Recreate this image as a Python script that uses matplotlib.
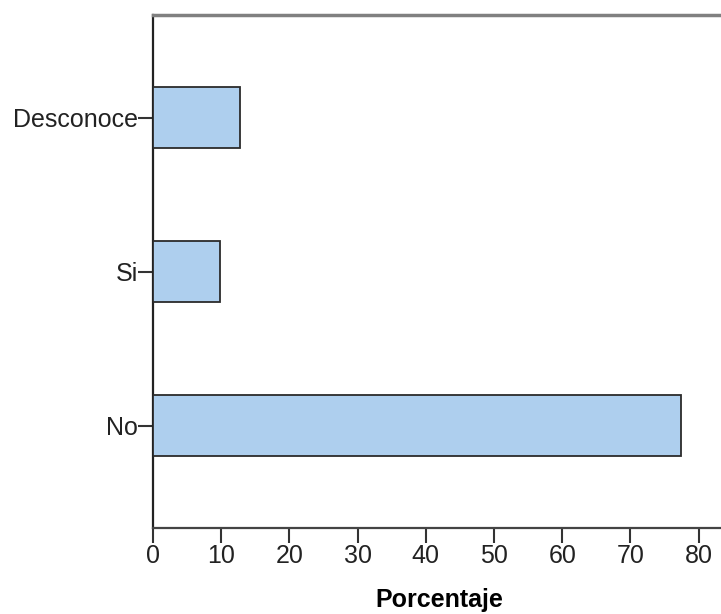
import matplotlib
matplotlib.use('Agg')
import matplotlib.pyplot as plt
import numpy as np

# data
categories = ['No', 'Si', 'Desconoce']
porcentaje = [77.4, 9.8, 12.7]
xticks = [0, 10, 20, 30, 40, 50, 60, 70, 80]

plt.rcParams['font.family'] = ['Liberation Sans', 'DejaVu Sans']

fig = plt.figure(figsize=(7.21, 6.14), dpi=100)
W, H = 721., 614.
# axes box in pixels: left 153, top 15, bottom 528, 6.82 px per unit
x0, ytop, ybot = 153., 15., 528.3
pxu = 6.82
xmax = 84.
ax = fig.add_axes([x0/W, (H-ybot)/H, xmax*pxu/W, (ybot-ytop)/H])

pos = np.arange(len(categories))
ax.barh(pos, porcentaje, height=0.396, color='#aecfee', edgecolor='#2b2b2b', linewidth=1.3, zorder=3)

ax.set_xlim(0, xmax)
ax.set_ylim(-0.667, 2.667)
ax.set_yticks(pos)
ax.set_yticklabels(categories)
ax.set_xticks(xticks)

ax.tick_params(axis='both', direction='out', length=10.5, width=1.5, color='#333333',
               labelsize=18, labelcolor='#222222', pad=0.5)
ax.set_xlabel('Porcentaje', fontsize=18, fontweight='bold', labelpad=15)

ax.spines['right'].set_visible(False)
ax.spines['top'].set_color('#808080')
ax.spines['top'].set_linewidth(2.5)
ax.spines['left'].set_color('#222222')
ax.spines['left'].set_linewidth(1.6)
ax.spines['bottom'].set_color('#444444')
ax.spines['bottom'].set_linewidth(1.6)

fig.savefig('out.png', dpi=100)
